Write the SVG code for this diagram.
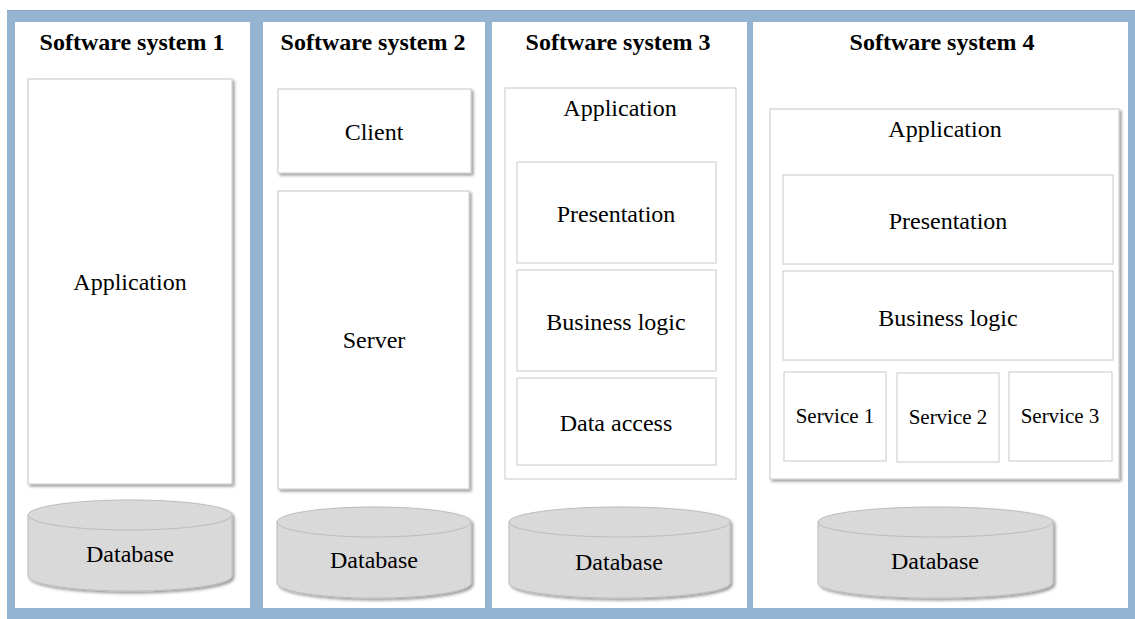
<svg xmlns="http://www.w3.org/2000/svg" width="1135" height="619" viewBox="0 0 1135 619">
<style>
.t{font-family:"Liberation Serif","Times New Roman",serif;font-size:24px;fill:#000;text-anchor:middle}
.h{font-weight:bold}
.s{font-size:21px}
.box{fill:#fff;stroke:#c8c8c8;stroke-width:1}
.panel{fill:#fff}
.db{fill:#d9d9d9;stroke:#bcbcbc;stroke-width:1}
</style>
<defs>
<filter id="sh" x="-10%" y="-10%" width="130%" height="130%">
<feDropShadow dx="2" dy="2" stdDeviation="1.5" flood-color="#000" flood-opacity="0.4"/>
</filter>
</defs>
<rect x="7" y="10" width="1128" height="609" fill="#94b4d2"/>
<line x1="7" y1="10.5" x2="1135" y2="10.5" stroke="#8aa3bb" stroke-width="1"/>
<g id="system1">
<rect class="panel" x="15" y="22" width="235" height="586"/>
<text class="t h" x="132" y="50">Software system 1</text>
<g id="app1"><rect class="box" x="28" y="79" width="204" height="405" filter="url(#sh)"/><text class="t" x="130" y="290">Application</text></g>
<g id="db1" filter="url(#sh)"><path class="db" d="M28,515 A102,15 0 0 1 232,515 V576 A102,15 0 0 1 28,576 Z"/><path d="M28,515 A102,15 0 0 0 232,515" fill="none" stroke="#bcbcbc"/></g>
<text class="t" x="130" y="562">Database</text>
</g>
<g id="system2">
<rect class="panel" x="263" y="22" width="222" height="586"/>
<text class="t h" x="373" y="50">Software system 2</text>
<g id="client"><rect class="box" x="278" y="89" width="193" height="84" filter="url(#sh)"/><text class="t" x="374" y="140">Client</text></g>
<g id="server"><rect class="box" x="278" y="191" width="191" height="298" filter="url(#sh)"/><text class="t" x="374" y="348">Server</text></g>
<g id="db2" filter="url(#sh)"><path class="db" d="M277,522 A97,15 0 0 1 471,522 V583 A97,15 0 0 1 277,583 Z"/><path d="M277,522 A97,15 0 0 0 471,522" fill="none" stroke="#bcbcbc"/></g>
<text class="t" x="374" y="568">Database</text>
</g>
<g id="system3">
<rect class="panel" x="492" y="22" width="255" height="586"/>
<text class="t h" x="618" y="50">Software system 3</text>
<g id="app3"><rect class="box" x="505" y="88" width="231" height="391"/><text class="t" x="620" y="116">Application</text></g>
<g id="pres3"><rect class="box" x="517" y="162" width="199" height="101"/><text class="t" x="616" y="222">Presentation</text></g>
<g id="biz3"><rect class="box" x="517" y="270" width="199" height="101"/><text class="t" x="616" y="330">Business logic</text></g>
<g id="data3"><rect class="box" x="517" y="378" width="199" height="87"/><text class="t" x="616" y="431">Data access</text></g>
<g id="db3" filter="url(#sh)"><path class="db" d="M509,522 A110.5,15 0 0 1 730,522 V583 A110.5,15 0 0 1 509,583 Z"/><path d="M509,522 A110.5,15 0 0 0 730,522" fill="none" stroke="#bcbcbc"/></g>
<text class="t" x="619" y="570">Database</text>
</g>
<g id="system4">
<rect class="panel" x="753" y="22" width="375" height="586"/>
<text class="t h" x="942" y="50">Software system 4</text>
<g id="app4"><rect class="box" x="770" y="109" width="349" height="370" filter="url(#sh)"/><text class="t" x="945" y="137">Application</text></g>
<g id="pres4"><rect class="box" x="783" y="175" width="330" height="89"/><text class="t" x="948" y="229">Presentation</text></g>
<g id="biz4"><rect class="box" x="783" y="271" width="330" height="89"/><text class="t" x="948" y="326">Business logic</text></g>
<g id="svc1"><rect class="box" x="784" y="372" width="102" height="89"/><text class="t s" x="835" y="423">Service 1</text></g>
<g id="svc2"><rect class="box" x="897" y="373" width="102" height="89"/><text class="t s" x="948" y="424">Service 2</text></g>
<g id="svc3"><rect class="box" x="1009" y="372" width="103" height="89"/><text class="t s" x="1060" y="423">Service 3</text></g>
<g id="db4" filter="url(#sh)"><path class="db" d="M818,522 A117.5,15 0 0 1 1053,522 V583 A117.5,15 0 0 1 818,583 Z"/><path d="M818,522 A117.5,15 0 0 0 1053,522" fill="none" stroke="#bcbcbc"/></g>
<text class="t" x="935" y="569">Database</text>
</g>
<g id="connectors"></g>
</svg>
